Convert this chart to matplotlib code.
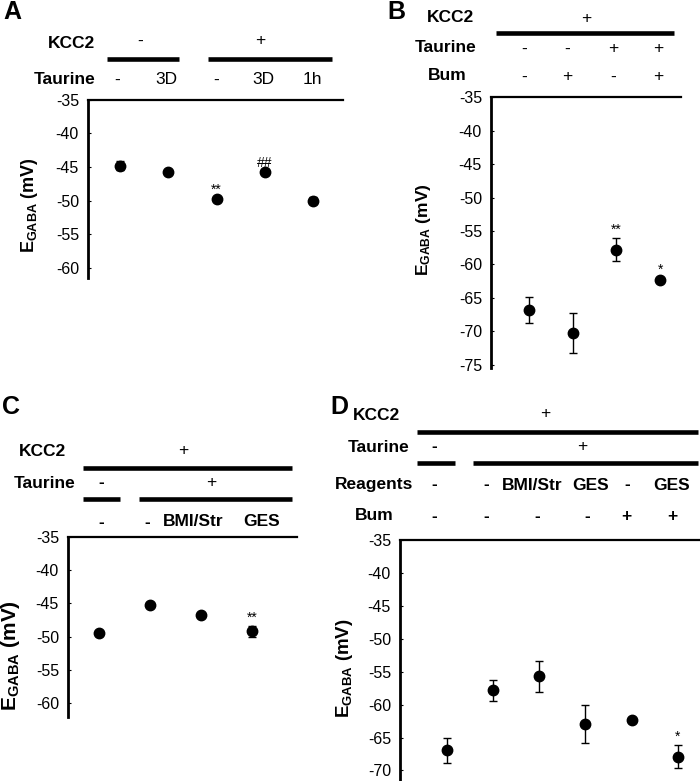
import matplotlib
matplotlib.use("Agg")
import matplotlib.pyplot as plt
from matplotlib.lines import Line2D

plt.rcParams['font.family'] = ['Liberation Sans', 'DejaVu Sans']
plt.rcParams['axes.unicode_minus'] = False
plt.rcParams['mathtext.fontset'] = 'custom'
plt.rcParams['mathtext.rm'] = 'Liberation Sans'
plt.rcParams['mathtext.bf'] = 'Liberation Sans:bold'
plt.rcParams['mathtext.it'] = 'Liberation Sans:italic'

# ---------------- data ----------------
a_mean = [-44.8, -45.8, -49.8, -45.8, -50.0]
a_err = [0.65, 0.2, 0.2, 0.2, 0.55]
a_marks = ["", "", "**", "##", ""]

b_mean = [-66.8, -70.3, -57.8, -62.3]
b_err = [1.9, 3.0, 1.7, 0.3]
b_marks = ["", "", "**", "*"]

c_mean = [-49.5, -45.3, -46.8, -49.2]
c_err = [0.4, 0.3, 0.3, 0.8]
c_marks = ["", "", "", "**"]

d_mean = [-66.9, -57.8, -55.7, -62.9, -62.3, -67.9]
d_err = [1.9, 1.6, 2.4, 2.9, 0.2, 1.7]
d_marks = ["", "", "", "", "", "*"]

yticks_a = [-35, -40, -45, -50, -55, -60]
yticks_b = [-35, -40, -45, -50, -55, -60, -65, -70, -75]
yticks_c = [-35, -40, -45, -50, -55, -60]
yticks_d = [-35, -40, -45, -50, -55, -60, -65, -70]

W, H = 700, 781
fig = plt.figure(figsize=(W / 100, H / 100), dpi=100)


def fx(x):
    return x / W


def fy(y):
    return 1 - y / H


def make_axes(l, t, r, b, ylim, xlim, yticks):
    ax = fig.add_axes([fx(l), fy(b), (r - l) / W, (b - t) / H])
    ax.set_ylim(*ylim)
    ax.set_xlim(*xlim)
    ax.spines['right'].set_visible(False)
    ax.spines['bottom'].set_visible(False)
    ax.spines['left'].set_linewidth(2.0)
    ax.spines['top'].set_linewidth(1.6)
    ax.set_xticks([])
    ax.set_yticks(yticks)
    ax.set_yticklabels([str(v) for v in yticks])
    ax.tick_params(axis='y', direction='in', length=2.5, width=0.8,
                   labelsize=11.5, pad=6.5)
    ax.patch.set_alpha(0)
    return ax


def plot_points(ax, means, errs, marks):
    xs = list(range(1, len(means) + 1))
    ax.errorbar(xs, means, yerr=errs, fmt='o', color='black', ms=7.5,
                elinewidth=1.0, capsize=3, capthick=1.0, clip_on=False)
    for x, m, e, s in zip(xs, means, errs, marks):
        if s:
            ax.annotate(s, (x, m + e), xytext=(0, 1), textcoords='offset points',
                        ha='center', va='bottom', fontsize=10)


def ylabel(ax, xf, yf, size=13):
    ax.set_ylabel(r"$\mathbf{E}_{\mathbf{GABA}}$" + " (mV)", fontsize=size,
                  fontweight='bold')
    ax.yaxis.set_label_coords(xf, yf)


def t(x, y, s, bold=False, ha='center', size=12.5):
    fig.text(fx(x), fy(y), s, ha=ha, va='center', fontsize=size,
             fontweight='bold' if bold else 'normal')


def bar(x1, x2, y, lw=3.3):
    fig.add_artist(Line2D([fx(x1), fx(x2)], [fy(y), fy(y)], color='black',
                          lw=lw, solid_capstyle='butt'))


# ---------------- Panel A ----------------
axA = make_axes(88, 99.5, 343, 278, (-61.5, -35), (0.337, 5.62), yticks_a)
plot_points(axA, a_mean, a_err, a_marks)
ylabel(axA, -0.188, 0.41, 13)
t(3, 12, "A", bold=True, ha='left', size=18)
t(95, 43, "KCC2", bold=True, ha='right')
t(140, 41, "-")
t(260, 41, "+")
bar(107, 179, 59)
bar(208, 332, 59)
t(96, 80, "Taurine", bold=True, ha='right')
for x, s in zip([117, 166, 216, 263, 312], ["-", "3D", "-", "3D", "1h"]):
    t(x, 80, s)

# ---------------- Panel B ----------------
axB = make_axes(491, 97.3, 681, 368, (-75.5, -35), (0.13, 4.48), yticks_b)
plot_points(axB, b_mean, b_err, b_marks)
ylabel(axB, -0.305, 0.51, 12.5)
t(387, 12, "B", bold=True, ha='left', size=18)
t(474, 18, "KCC2", bold=True, ha='right')
t(586, 19, "+")
bar(496, 674, 33)
t(477, 47, "Taurine", bold=True, ha='right')
for x, s in zip([524, 567, 613, 658], ["-", "-", "+", "+"]):
    t(x, 49, s)
t(467, 75, "Bum", bold=True, ha='right')
for x, s in zip([524, 567, 613, 658], ["-", "+", "-", "+"]):
    t(x, 77, s)

# ---------------- Panel C ----------------
axC = make_axes(68, 537, 297, 717, (-62.1, -35), (0.383, 4.88), yticks_c)
plot_points(axC, c_mean, c_err, c_marks)
ylabel(axC, -0.20, 0.34, 15)
t(2, 407, "C", bold=True, ha='left', size=18)
t(66, 451, "KCC2", bold=True, ha='right')
t(183, 450, "+")
bar(83, 292, 468)
t(76, 484, "Taurine", bold=True, ha='right')
t(101, 482, "-", bold=True)
t(211, 482, "+")
bar(83, 120, 499)
bar(139, 292, 499)
for x, s in zip([101, 147, 193, 262], ["-", "-", "BMI/Str", "GES"]):
    t(x, 522, s, bold=True)

# ---------------- Panel D ----------------
axD = make_axes(400, 540, 700, 781, (-71.6, -35), (-0.01, 6.48), yticks_d)
plot_points(axD, d_mean, d_err, d_marks)
ylabel(axD, -0.15, 0.47, 13.5)
t(330, 407, "D", bold=True, ha='left', size=18)
t(400, 415, "KCC2", bold=True, ha='right')
t(545, 414, "+")
bar(417, 698, 432)
t(409, 448, "Taurine", bold=True, ha='right')
t(434, 446, "-", bold=True)
t(582, 446, "+")
bar(417, 455, 463)
bar(473, 698, 463)
t(413, 485, "Reagents", bold=True, ha='right')
for x, s in zip([434, 486, 532, 591, 627, 672],
                ["-", "-", "BMI/Str", "GES", "-", "GES"]):
    t(x, 485, s, bold=True)
t(394, 516, "Bum", bold=True, ha='right')
for x, s in zip([434, 486, 537, 587, 626, 672], ["-", "-", "-", "-", "+", "+"]):
    t(x, 516, s, bold=True)

fig.savefig("out.png", dpi=100)
